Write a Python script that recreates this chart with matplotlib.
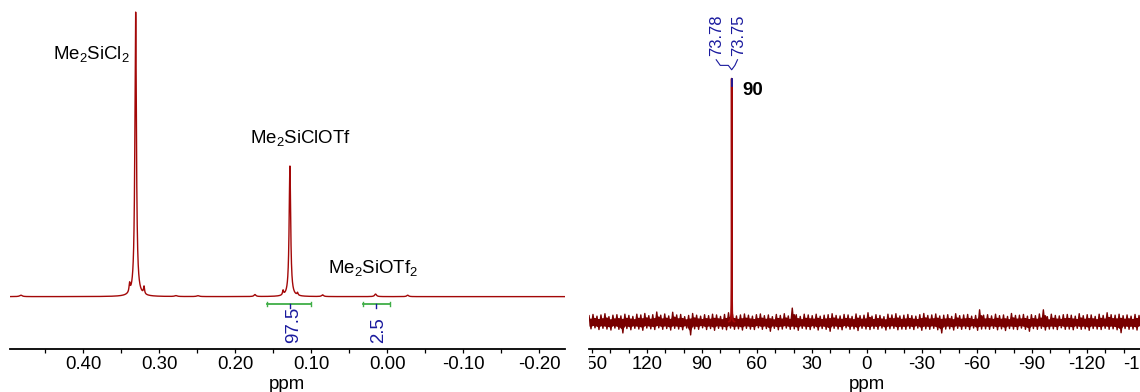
import numpy as np
import matplotlib
matplotlib.use("Agg")
import matplotlib.pyplot as plt
from matplotlib.ticker import FixedLocator, FuncFormatter
from matplotlib.transforms import Bbox, TransformedBbox

plt.rcParams['font.family'] = ['Liberation Sans', 'DejaVu Sans']
plt.rcParams['mathtext.default'] = 'regular'
plt.rcParams['axes.unicode_minus'] = False

# ---------------- 1H spectrum (left) ----------------
h_xlim = (0.497, -0.234)
h_ylim = (-18.5, 104.2)
h_peak_ppm = [0.482, 0.339, 0.331, 0.320, 0.278, 0.249, 0.174, 0.137, 0.128, 0.118, 0.085, 0.0153, -0.027]
h_peak_height = [0.5, 3.0, 100.0, 2.6, 0.3, 0.3, 0.7, 1.6, 45.9, 0.9, 0.6, 0.9, 0.5]
h_peak_hwhm = [0.002, 0.0008, 0.0012, 0.0008, 0.002, 0.002, 0.0015, 0.0008, 0.0012, 0.0008, 0.0015, 0.0015, 0.0015]
h_major_ticks = [0.40, 0.30, 0.20, 0.10, 0.00, -0.10, -0.20]
h_minor_ticks = [0.45, 0.35, 0.25, 0.15, 0.05, -0.05, -0.15]

int_ranges = [(0.158, 0.100), (0.032, -0.004)]
int_marks = [0.128, 0.0153]
int_values = [97.5, 2.5]

compound_names = ['Me$_2$SiCl$_2$', 'Me$_2$SiClOTf', 'Me$_2$SiOTf$_2$']
compound_ppm = [0.440, 0.181, 0.078]
compound_y = [83.4, 53.9, 8.2]

# ---------------- second spectrum (right) ----------------
f_xlim = (151.6, -151.7)
f_ylim = (-11.07, 132.0)
f_peak_ppm = [73.78, 73.75]
f_peak_height = [53.0, 53.0]
f_peak_hwhm = [0.06, 0.06]
f_major_ticks = [150, 120, 90, 60, 30, 0, -30, -60, -90, -120, -150]
f_minor_step = 10
f_sample_label = '90'

# upper / lower extent of the baseline noise trace, sampled evenly across the window
noise_hi = [2.6, 3.1, 2.4, 2.9, 3.4, 2.2, 2.8, 3.0, 2.5, 3.2,
            2.7, 2.3, 3.2, 2.9, 3.5, 2.6, 3.0, 4.1, 2.8, 3.3,
            2.5, 4.0, 2.9, 3.1, 2.2, 2.7, 3.5, 2.8, 2.4, 3.0,
            2.6, 3.2, 2.9, 2.3, 3.1, 3.8, 3.1, 2.5, 2.9, 3.3,
            2.8, 2.4, 3.0, 3.3, 2.6, 2.9, 2.2, 3.1, 2.7, 3.4,
            2.5, 5.7, 3.0, 2.3, 3.2, 2.9, 2.6, 3.2, 2.4, 2.8,
            3.0, 3.4, 2.7, 2.5, 3.1, 2.9, 2.3, 3.3, 2.6, 2.8,
            3.8, 2.4, 3.0, 2.7, 2.2, 3.2, 2.9, 3.4, 2.5, 2.8,
            3.1, 2.6, 2.4, 3.0, 3.5, 2.7, 2.9, 3.3, 2.5, 2.8,
            3.0, 2.3, 3.4, 2.6, 2.9, 3.1, 2.4, 2.7, 5.0, 2.8,
            3.0, 2.5, 3.2, 2.6, 2.9, 2.3, 3.5, 2.7, 2.8, 3.1,
            2.4, 3.0, 2.6, 3.3, 5.0, 2.2, 3.2, 2.7, 2.5, 3.0,
            3.1, 2.8, 2.4, 3.4, 2.6, 3.0, 2.9, 2.3, 3.2, 2.7,
            3.8, 3.0, 2.8, 3.2, 2.6, 2.9, 2.4, 3.1, 2.7, 3.0]
noise_lo = [-2.8, -2.4, -3.1, -2.6, -2.9, -3.3, -2.5, -3.0, -4.5, -2.7,
            -3.2, -2.6, -2.9, -3.4, -2.5, -2.8, -3.1, -2.4, -3.0, -2.7,
            -3.3, -2.6, -2.9, -3.2, -2.5, -5.3, -2.8, -3.0, -2.4, -3.1,
            -2.7, -3.4, -2.6, -2.9, -3.2, -2.5, -3.0, -2.8, -3.3, -2.6,
            -2.9, -3.1, -2.4, -3.0, -2.7, -3.8, -2.6, -3.2, -2.9, -2.5,
            -3.0, -2.8, -3.4, -2.6, -2.9, -3.1, -2.5, -3.3, -2.7, -3.0,
            -3.8, -2.6, -2.9, -3.2, -2.4, -3.0, -2.8, -3.5, -2.6, -2.9,
            -3.1, -2.7, -3.0, -2.5, -3.3, -2.8, -2.6, -3.2, -2.9, -3.0,
            -2.7, -3.1, -2.5, -3.4, -2.8, -3.0, -2.6, -3.2, -4.5, -2.9,
            -2.8, -3.3, -2.6, -3.0, -2.7, -3.1, -2.5, -3.4, -2.9, -2.8,
            -3.0, -2.6, -3.2, -2.8, -3.5, -2.7, -2.9, -3.1, -2.5, -3.0,
            -3.8, -2.7, -3.0, -2.6, -3.3, -2.9, -2.8, -3.1, -2.4, -3.0,
            -2.9, -3.2, -2.6, -3.0, -2.8, -3.4, -2.7, -2.9, -3.1, -2.6,
            -3.0, -2.8, -3.2, -4.4, -2.7, -3.0, -2.9, -3.3, -2.6, -2.8]

SPEC_RED = '#a30808'
NOISE_RED = '#790000'
LABEL_BLUE = '#1a1a9e'
INT_GREEN = '#3fae47'
FS = 13.4


def lorentz_sum(x, centers, heights, hwhm):
    y = np.zeros_like(x)
    for c, h, w in zip(centers, heights, hwhm):
        y += h / (1.0 + ((x - c) / w) ** 2)
    return y


def style_axis(ax):
    for side in ('top', 'left', 'right'):
        ax.spines[side].set_visible(False)
    ax.spines['bottom'].set_linewidth(1.3)
    ax.set_yticks([])
    ax.tick_params(axis='x', which='both', direction='out', length=2.6, width=0.9,
                   labelsize=FS, pad=2.5)
    ax.set_xlabel('ppm', fontsize=FS, labelpad=2)
    ax.patch.set_alpha(0)


W, H = 1140, 392
fig = plt.figure(figsize=(W / 100, H / 100), dpi=100)

# ---- left panel
ax1 = fig.add_axes([9.5 / W, (H - 349.3) / H, (565 - 9.5) / W, 349.3 / H])
x1 = np.linspace(h_xlim[0], h_xlim[1], 9000)
ax1.plot(x1, lorentz_sum(x1, h_peak_ppm, h_peak_height, h_peak_hwhm), color=SPEC_RED, lw=1.0)
ax1.set_xlim(*h_xlim)
ax1.set_ylim(*h_ylim)
style_axis(ax1)
ax1.xaxis.set_major_locator(FixedLocator(h_major_ticks))
ax1.xaxis.set_minor_locator(FixedLocator(h_minor_ticks))
ax1.xaxis.set_major_formatter(FuncFormatter(lambda v, p: f"{round(v, 2) + 0.0:.2f}"))

bar_y = -2.6
for (a, b), m, v in zip(int_ranges, int_marks, int_values):
    ax1.plot([a, b], [bar_y, bar_y], color=INT_GREEN, lw=1.3)
    ax1.plot([a, a], [bar_y - 0.6, bar_y + 0.6], color=INT_GREEN, lw=1.0)
    ax1.plot([b, b], [bar_y - 0.6, bar_y + 0.6], color=INT_GREEN, lw=1.0)
    ax1.plot([m, m], [bar_y, bar_y - 1.3], color=LABEL_BLUE, lw=1.0)
    ax1.annotate(f"{v}", xy=(m, -16.3), xytext=(2.5, 0), textcoords='offset points',
                 rotation=90, ha='center', va='bottom', color=LABEL_BLUE, fontsize=FS)

for name, px, py in zip(compound_names, compound_ppm, compound_y):
    ax1.text(px, py, name, ha='left', va='baseline', fontsize=FS, color='black')

# ---- right panel
ax2 = fig.add_axes([589 / W, (H - 349) / H, (1145 - 589) / W, 349 / H])
n = len(noise_hi)
xn = np.linspace(f_xlim[0], f_xlim[1], 2 * n)
yn = np.empty(2 * n)
yn[0::2] = noise_hi
yn[1::2] = noise_lo
ax2.plot(xn, yn, color=NOISE_RED, lw=1.0)
ax2.fill_between(xn, np.array(noise_lo).repeat(2) * 0.6, np.array(noise_hi).repeat(2) * 0.6,
                 color=NOISE_RED, lw=0)

x2 = np.linspace(f_peak_ppm[0] + 1.5, f_peak_ppm[-1] - 1.5, 4000)
y2 = lorentz_sum(x2, f_peak_ppm, f_peak_height, f_peak_hwhm)
ax2.plot(x2, y2, color=SPEC_RED, lw=1.3)
ax2.set_xlim(*f_xlim)
ax2.set_ylim(*f_ylim)
style_axis(ax2)
ax2.xaxis.set_major_locator(FixedLocator(f_major_ticks))
ax2.xaxis.set_minor_locator(FixedLocator(np.arange(-150, 151, f_minor_step)))
ax2.xaxis.set_major_formatter(FuncFormatter(lambda v, p: f"{int(round(v))}"))

top = y2.max()
pk = x2[np.argmax(y2)]
ax2.annotate(f"{f_peak_ppm[0]:.2f}", xy=(pk, top), xytext=(-11, 16),
             textcoords='offset points', rotation=90, ha='center', va='bottom',
             color=LABEL_BLUE, fontsize=12)
ax2.annotate(f"{f_peak_ppm[1]:.2f}", xy=(pk, top), xytext=(5, 16),
             textcoords='offset points', rotation=90, ha='center', va='bottom',
             color=LABEL_BLUE, fontsize=12)
# connector from the two labels down to the peak
ax2.plot([82.2, 80.0, 75.6, pk, 72.0, 70.6],
         [107.5, 105.2, 105.2, 103.4, 105.2, 107.5], color=LABEL_BLUE, lw=0.8)
ax2.plot([pk, pk], [top - 3, top], color=LABEL_BLUE, lw=1.3)
ax2.annotate(f_sample_label, xy=(pk, top), xytext=(8, -12),
             textcoords='offset points', ha='left', va='baseline',
             fontsize=FS, fontweight='bold', color='black')

# the window starts at the left spine: hide label parts that fall outside it
fig.canvas.draw()
clip = TransformedBbox(Bbox([[0, -1], [2, 1]]), ax2.transAxes)
for lab in ax2.get_xticklabels():
    lab.set_clip_box(clip)
    lab.set_clip_on(True)

fig.savefig('out.png', dpi=100)
